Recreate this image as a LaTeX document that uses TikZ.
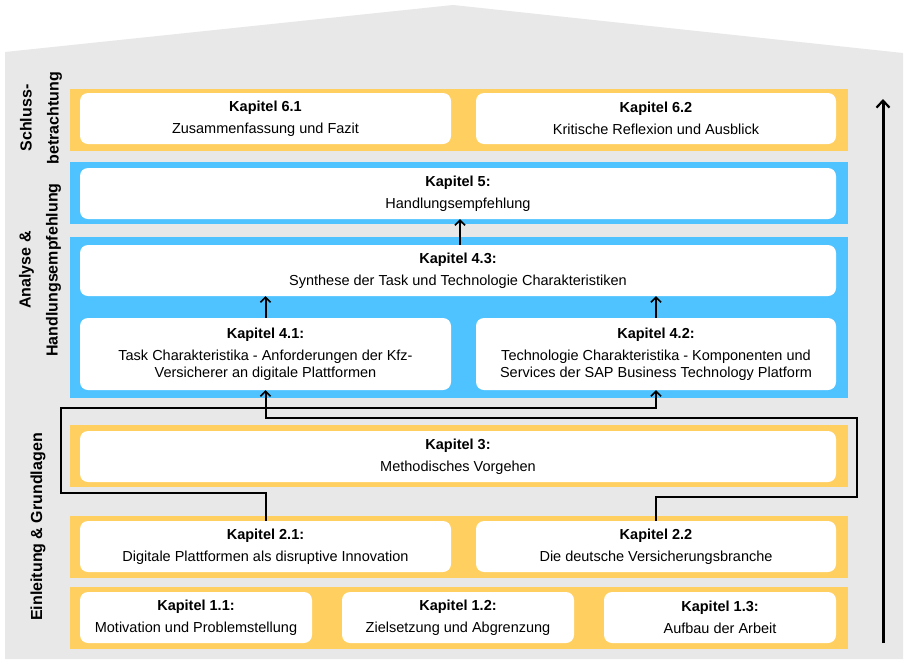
\documentclass[tikz,border=0pt]{standalone}
\usepackage{fontspec}
\setmainfont{Liberation Sans}
\usetikzlibrary{arrows.meta}
\definecolor{orng}{RGB}{255,207,95}
\definecolor{blu}{RGB}{79,195,255}
\definecolor{hgray}{RGB}{232,232,232}
\begin{document}
\begin{tikzpicture}[x=1pt,y=-1pt,
  wbox/.style={fill=white, rounded corners=8pt, draw=none, align=center, inner sep=0pt,
    font=\fontsize{14.5}{17}\selectfont},
  obandstyle/.style={fill=orng, draw=none},
  bbandstyle/.style={fill=blu, draw=none},
  side/.style={rotate=90, align=center, inner sep=0pt, font=\bfseries\fontsize{16}{27}\selectfont},
  conn/.style={line width=2pt, -{Straight Barb[length=5pt,width=10pt,line width=1.6pt]}},
  plain/.style={line width=2pt},
  bigarrow/.style={line width=3pt, -{Straight Barb[length=7pt,width=13pt,line width=2.2pt]}}
]
\useasboundingbox (0,0) rectangle (910,665);
\fill[white] (0,0) rectangle (910,665);
% house
\fill[hgray] (5,52) -- (453,5) -- (903,53) -- (903,659) -- (5,659) -- cycle;
% bands
\fill[obandstyle] (70,89) rectangle (848,151);
\fill[bbandstyle] (70,162) rectangle (848,224);
\fill[bbandstyle] (70,237) rectangle (848,398);
\fill[obandstyle] (70,425) rectangle (848,487);
\fill[obandstyle] (70,516) rectangle (848,578);
\fill[obandstyle] (70,587) rectangle (848,649);
% boxes
\node[wbox, minimum width=371pt, minimum height=51pt] (b61) at (265.5,118.5) {\textbf{Kapitel 6.1}\\[5pt]Zusammenfassung und Fazit};
\node[wbox, minimum width=360pt, minimum height=51pt] (b62) at (656,118.5) {\textbf{Kapitel 6.2}\\[5pt]Kritische Reflexion und Ausblick};
\node[wbox, minimum width=756pt, minimum height=51pt] (b5) at (458,193.5) {\textbf{Kapitel 5:}\\[5pt]Handlungsempfehlung};
\node[wbox, minimum width=756pt, minimum height=51pt] (b43) at (458,270.5) {\textbf{Kapitel 4.3:}\\[5pt]Synthese der Task und Technologie Charakteristiken};
\node[wbox, minimum width=371pt, minimum height=72pt] (b41) at (265.5,354) {\textbf{Kapitel 4.1:}\\[5pt]Task Charakteristika - Anforderungen der Kfz-\\Versicherer an digitale Plattformen};
\node[wbox, minimum width=360pt, minimum height=72pt] (b42) at (656,354) {\textbf{Kapitel 4.2:}\\[5pt]Technologie Charakteristika - Komponenten und\\Services der SAP Business Technology Platform};
\node[wbox, minimum width=756pt, minimum height=51pt] (b3) at (458,456.5) {\textbf{Kapitel 3:}\\[5pt]Methodisches Vorgehen};
\node[wbox, minimum width=371pt, minimum height=51pt] (b21) at (265.5,546.5) {\textbf{Kapitel 2.1:}\\[5pt]Digitale Plattformen als disruptive Innovation};
\node[wbox, minimum width=360pt, minimum height=51pt] (b22) at (656,546.5) {\textbf{Kapitel 2.2}\\[5pt]Die deutsche Versicherungsbranche};
\node[wbox, minimum width=232pt, minimum height=51pt] (b11) at (196,617.5) {\textbf{Kapitel 1.1:}\\[5pt]Motivation und Problemstellung};
\node[wbox, minimum width=232pt, minimum height=51pt] (b12) at (458,617.5) {\textbf{Kapitel 1.2:}\\[5pt]Zielsetzung und Abgrenzung};
\node[wbox, minimum width=232pt, minimum height=51pt] (b13) at (720,617.5) {\textbf{Kapitel 1.3:}\\[5pt]Aufbau der Arbeit};
% side labels
\node[side] (s1) at (41,118) {Schluss-\\betrachtung};
\node[side] (s2) at (40,270) {Analyse \&\\Handlungsempfehlung};
\node[side] (s3) at (38,527) {Einleitung \& Grundlagen};
% connectors
\coordinate (p1) at (61,493);
\coordinate (p2) at (61,408);
\coordinate (q1) at (857,497);
\coordinate (q2) at (857,418);
\draw[conn] (b22.north) |- (q1) -- (q2) -| (b41.south);
\draw[conn] (b21.north) |- (p1) -- (p2) -| (b42.south);
\draw[conn] (b41.north) -- (b41.north |- b43.south);
\draw[conn] (b42.north) -- (b42.north |- b43.south);
\draw[conn] ([xshift=2pt]b43.north) -- ([xshift=2pt]b5.south);
% big arrow
\coordinate (ab) at (883,643);
\coordinate (at) at (883,99);
\draw[bigarrow] (ab) -- (at);
\end{tikzpicture}
\end{document}
